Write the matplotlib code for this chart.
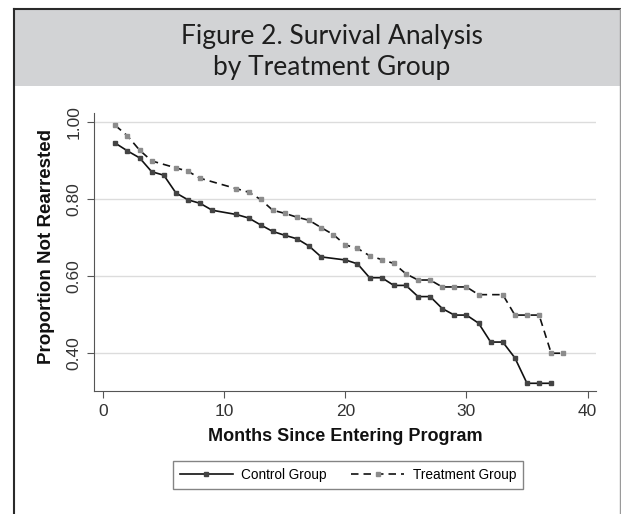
import matplotlib.pyplot as plt
from matplotlib.lines import Line2D
from matplotlib.patches import Rectangle

# values
control_months = [1, 2, 3, 4, 5, 6, 7, 8, 9, 11, 12, 13, 14, 15, 16, 17, 18,
                  20, 21, 22, 23, 24, 25, 26, 27, 28, 29, 30, 31, 32, 33, 34,
                  35, 36, 37]
control_surv = [0.945, 0.925, 0.907, 0.871, 0.862, 0.816, 0.798, 0.789, 0.771,
                0.760, 0.751, 0.733, 0.716, 0.706, 0.697, 0.678, 0.650, 0.642,
                0.632, 0.596, 0.596, 0.576, 0.576, 0.547, 0.547, 0.516, 0.499,
                0.499, 0.478, 0.429, 0.429, 0.388, 0.322, 0.322, 0.322]

treat_months = [1, 2, 3, 4, 6, 7, 8, 11, 12, 13, 14, 15, 16, 17, 18, 19, 20,
                21, 22, 23, 24, 25, 26, 27, 28, 29, 30, 31, 33, 34, 35, 36, 37,
                38]
treat_surv = [0.991, 0.964, 0.927, 0.899, 0.881, 0.872, 0.854, 0.827, 0.818,
              0.799, 0.771, 0.763, 0.753, 0.745, 0.726, 0.708, 0.681, 0.672,
              0.653, 0.643, 0.633, 0.606, 0.590, 0.590, 0.572, 0.572, 0.572,
              0.552, 0.552, 0.499, 0.499, 0.499, 0.400, 0.400]

x_ticks = [0, 10, 20, 30, 40]
y_ticks = [0.40, 0.60, 0.80, 1.00]
y_tick_labels = ["0.40", "0.60", "0.80", "1.00"]

W, H = 621, 514
fig = plt.figure(figsize=(W / 100, H / 100), dpi=100)
plt.rcParams['font.family'] = ['Liberation Sans', 'DejaVu Sans']


def fx(px):
    return px / W


def fy(py):
    return 1 - py / H


# title band and outer frame
fig.add_artist(Rectangle((fx(14), fy(86)), fx(606), 77 / H,
                         transform=fig.transFigure, facecolor="#d2d3d5",
                         edgecolor="none"))
fig.add_artist(Line2D([fx(14), fx(14)], [fy(9), 0], color="#2a2a2a", lw=1.5,
                      transform=fig.transFigure))
fig.add_artist(Line2D([fx(14), fx(620)], [fy(9), fy(9)], color="#2a2a2a",
                      lw=1.5, transform=fig.transFigure))
fig.add_artist(Line2D([fx(620), fx(620)], [fy(9), 0], color="#9a9a9a", lw=1,
                      transform=fig.transFigure))
fig.text(fx(332), fy(52), "Figure 2. Survival Analysis\nby Treatment Group",
         ha="center", va="center", fontsize=19, color="#1e1e1e",
         family=["Lato", "DejaVu Sans"], fontweight="normal",
         linespacing=1.32)

ax = fig.add_axes([fx(94.3), fy(391), (596 - 94.3) / W, (391 - 113.3) / H])

ax.plot(control_months, control_surv, color="#111111", lw=1.2, ls="-",
        marker="s", ms=3.2, mfc="#444444", mec="#444444",
        label="Control Group")
ax.plot(treat_months, treat_surv, color="#111111", lw=1.2, ls=(0, (4.5, 3)),
        marker="s", ms=3.2, mfc="#8c8c8c", mec="#8c8c8c",
        label="Treatment Group")

ax.set_xlim(-0.74, 40.7)
ax.set_ylim(0.302, 1.0226)
ax.set_xticks(x_ticks)
ax.set_yticks(y_ticks)
ax.set_yticklabels(y_tick_labels, rotation=90, va="center")
ax.grid(axis="y", color="#dcdcdc", lw=1)
ax.set_axisbelow(True)
for side in ["top", "right"]:
    ax.spines[side].set_visible(False)
for side in ["left", "bottom"]:
    ax.spines[side].set_color("#555555")
ax.tick_params(direction="out", length=5, color="#555555", labelsize=12.5,
               labelcolor="#333333", pad=4)

ax.set_xlabel("Months Since Entering Program", fontsize=13,
              fontweight="bold", color="#111111", labelpad=7)
ax.set_ylabel("Proportion Not Rearrested", fontsize=13.5, fontweight="bold",
              color="#111111")
ax.yaxis.set_label_coords(-0.078, 0.52)

fig.legend(loc="center", bbox_to_anchor=(fx(348), fy(475)), ncol=2,
           fontsize=9.8, frameon=True, fancybox=False, edgecolor="#666666",
           handlelength=3.9, handletextpad=0.6, columnspacing=1.8,
           borderpad=0.5, numpoints=1)

fig.savefig("out.png", dpi=100, facecolor="white")
